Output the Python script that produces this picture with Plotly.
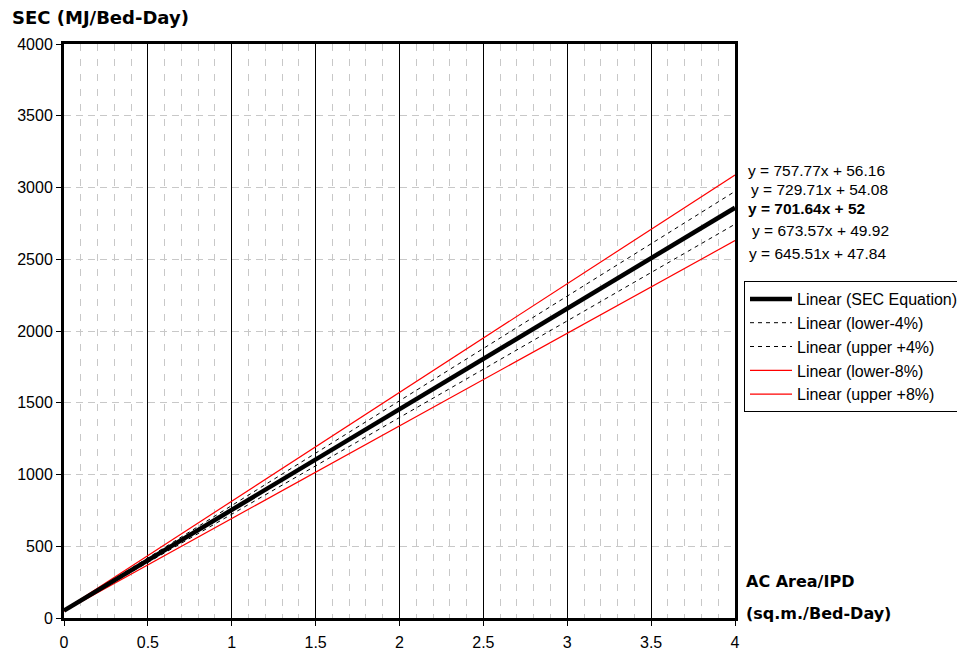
import plotly.graph_objects as go

series_names = ["Linear (SEC Equation)", "Linear (lower-4%)", "Linear (upper +4%)",
                "Linear (lower-8%)", "Linear (upper +8%)"]
slopes = [701.64, 673.57, 729.71, 645.51, 757.77]
intercepts = [52, 49.92, 54.08, 47.84, 56.16]
x_span = [0, 4]

eq_labels = ["y = 757.77x + 56.16", "y = 729.71x + 54.08", "<b>y = 701.64x + 52</b>",
             "y = 673.57x + 49.92", "y = 645.51x + 47.84"]

styles = [
    dict(color="black", width=4.5),
    dict(color="black", width=1, dash="4px,4px"),
    dict(color="black", width=1, dash="4px,4px"),
    dict(color="red", width=1.2),
    dict(color="red", width=1.2),
]

fig = go.Figure()
draw_order = [3, 4, 1, 2, 0]
for i in draw_order:
    ys = [slopes[i] * xv + intercepts[i] for xv in x_span]
    fig.add_trace(go.Scatter(x=x_span, y=ys, mode="lines", name=series_names[i],
                             line=styles[i], legendrank=i + 1))

W, H = 957, 650
L, R, T, B = 64, 222, 44, 32
pw = W - L - R
ph = H - T - B

def px_x(p):
    return (p - L) / pw

def px_y(p):
    return (H - B - p) / ph

eq_y = [170, 189, 209, 230, 253]
eq_x = [746, 749, 746, 750, 747]
for txt, yy, xx in zip(eq_labels, eq_y, eq_x):
    fig.add_annotation(text=txt, xref="paper", yref="paper", x=px_x(xx), y=px_y(yy),
                       xanchor="left", yanchor="middle", showarrow=False,
                       font=dict(family="Liberation Sans, Arial", size=15.5, color="black"))

fig.add_annotation(text="<b>SEC (MJ/Bed-Day)</b>", xref="paper", yref="paper",
                   x=px_x(10), y=px_y(18), xanchor="left", yanchor="middle", showarrow=False,
                   font=dict(family="DejaVu Sans", size=18, color="black"))
fig.add_annotation(text="<b>AC Area/IPD</b>", xref="paper", yref="paper",
                   x=px_x(744), y=px_y(581), xanchor="left", yanchor="middle", showarrow=False,
                   font=dict(family="DejaVu Sans", size=16, color="black"))
fig.add_annotation(text="<b>(sq.m./Bed-Day)</b>", xref="paper", yref="paper",
                   x=px_x(744), y=px_y(613), xanchor="left", yanchor="middle", showarrow=False,
                   font=dict(family="DejaVu Sans", size=16, color="black"))

fig.update_layout(
    width=W, height=H,
    margin=dict(l=L, r=R, t=T, b=B, autoexpand=False),
    plot_bgcolor="white", paper_bgcolor="white",
    font=dict(family="Liberation Sans, Arial", size=16, color="black"),
    showlegend=True,
    legend=dict(x=px_x(744), y=px_y(281), xanchor="left", yanchor="top",
                bordercolor="black", borderwidth=1, bgcolor="white",
                font=dict(family="Liberation Sans, Arial", size=16, color="black"),
                tracegroupgap=0, itemwidth=42),
)
fig.update_xaxes(range=[0, 4], dtick=0.5, tick0=0, showgrid=True, gridcolor="black", gridwidth=1,
                 showline=True, linecolor="black", linewidth=3, mirror=True,
                 ticks="outside", ticklen=5, tickcolor="black", zeroline=False, automargin=False,
                 ticklabelstandoff=3,
                 minor=dict(dtick=0.1, tick0=0, showgrid=True, gridcolor="#c8c8c8",
                            griddash="7px,8px", gridwidth=1, ticks=""))
fig.update_yaxes(range=[0, 4000], dtick=500, tick0=0, showgrid=True, gridcolor="#c8c8c8",
                 griddash="7px,5px", gridwidth=1, automargin=False,
                 showline=True, linecolor="black", linewidth=3, mirror=True,
                 ticks="outside", ticklen=5, tickcolor="black", zeroline=False)

fig.write_html("out.html", post_script="document.body.style.margin='0';",
               config={"displayModeBar": False})
